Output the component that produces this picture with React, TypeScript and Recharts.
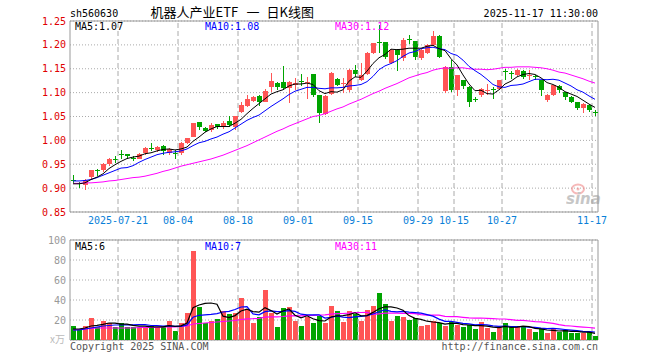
import { ComposedChart, Bar, Line, XAxis, YAxis, CartesianGrid, ReferenceLine, ReferenceArea } from 'recharts';

// trading days shown, MM-DD
const dates = [
  '07-09', '07-10', '07-11', '07-14', '07-15', '07-16', '07-17', '07-18', '07-21', '07-22',
  '07-23', '07-24', '07-25', '07-28', '07-29', '07-30', '07-31', '08-01', '08-04', '08-05',
  '08-06', '08-07', '08-08', '08-11', '08-12', '08-13', '08-14', '08-15', '08-18', '08-19',
  '08-20', '08-21', '08-22', '08-25', '08-26', '08-27', '08-28', '08-29', '09-01', '09-02',
  '09-03', '09-04', '09-05', '09-08', '09-09', '09-10', '09-11', '09-12', '09-15', '09-16',
  '09-17', '09-18', '09-19', '09-22', '09-23', '09-24', '09-25', '09-26', '09-29', '09-30',
  '10-09', '10-10', '10-13', '10-14', '10-15', '10-16', '10-17', '10-20', '10-21', '10-22',
  '10-23', '10-24', '10-27', '10-28', '10-29', '10-30', '10-31', '11-03', '11-04', '11-05',
  '11-06', '11-07', '11-10', '11-11', '11-12', '11-13', '11-14', '11-17',
];

const open = [
  0.916, 0.910, 0.907, 0.923, 0.937, 0.937, 0.950, 0.960, 0.972, 0.971,
  0.964, 0.962, 0.973, 0.984, 0.980, 0.989, 0.974, 0.974, 0.973, 0.995,
  1.008, 1.038, 1.025, 1.022, 1.034, 1.030, 1.040, 1.029, 1.060, 1.072,
  1.083, 1.093, 1.081, 1.112, 1.120, 1.123, 1.110, 1.115, 1.124, 1.120,
  1.138, 1.095, 1.055, 1.097, 1.128, 1.118, 1.105, 1.148, 1.127, 1.138,
  1.182, 1.206, 1.206, 1.162, 1.190, 1.172, 1.213, 1.208, 1.172, 1.184,
  1.200, 1.219, 1.103, 1.154, 1.106, 1.126, 1.112, 1.086, 1.094, 1.105,
  1.107, 1.108, 1.145, 1.141, 1.137, 1.146, 1.136, 1.134, 1.127, 1.084,
  1.094, 1.113, 1.101, 1.091, 1.080, 1.068, 1.075, 1.060,
];
const high = [
  0.927, 0.912, 0.920, 0.939, 0.940, 0.952, 0.963, 0.967, 0.980, 0.972,
  0.968, 0.973, 0.986, 0.994, 0.988, 0.990, 0.983, 0.980, 0.996, 1.006,
  1.037, 1.039, 1.027, 1.036, 1.035, 1.040, 1.051, 1.052, 1.081, 1.096,
  1.093, 1.094, 1.107, 1.141, 1.123, 1.156, 1.124, 1.131, 1.138, 1.133,
  1.140, 1.096, 1.094, 1.143, 1.131, 1.130, 1.149, 1.158, 1.163, 1.186,
  1.204, 1.242, 1.207, 1.192, 1.192, 1.214, 1.221, 1.209, 1.192, 1.202,
  1.229, 1.221, 1.156, 1.168, 1.137, 1.127, 1.113, 1.091, 1.110, 1.119,
  1.112, 1.127, 1.149, 1.146, 1.150, 1.148, 1.147, 1.136, 1.127, 1.098,
  1.116, 1.115, 1.102, 1.092, 1.081, 1.079, 1.076, 1.064,
];
const low = [
  0.910, 0.900, 0.898, 0.921, 0.926, 0.933, 0.946, 0.953, 0.962, 0.962,
  0.958, 0.960, 0.969, 0.978, 0.976, 0.969, 0.969, 0.962, 0.969, 0.993,
  1.007, 1.022, 1.017, 1.018, 1.024, 1.024, 1.027, 1.023, 1.057, 1.070,
  1.081, 1.070, 1.079, 1.101, 1.107, 1.105, 1.078, 1.106, 1.112, 1.086,
  1.092, 1.037, 1.053, 1.095, 1.114, 1.098, 1.101, 1.133, 1.125, 1.137,
  1.180, 1.183, 1.172, 1.160, 1.146, 1.166, 1.203, 1.170, 1.168, 1.182,
  1.198, 1.172, 1.100, 1.101, 1.094, 1.108, 1.070, 1.080, 1.092, 1.096,
  1.087, 1.106, 1.126, 1.130, 1.135, 1.130, 1.126, 1.126, 1.094, 1.082,
  1.092, 1.099, 1.085, 1.077, 1.064, 1.059, 1.059, 1.052,
];
const close = [
  0.914, 0.908, 0.918, 0.938, 0.936, 0.951, 0.962, 0.959, 0.971, 0.968,
  0.963, 0.972, 0.984, 0.983, 0.987, 0.977, 0.981, 0.973, 0.994, 1.005,
  1.036, 1.029, 1.019, 1.032, 1.028, 1.036, 1.032, 1.051, 1.074, 1.086,
  1.091, 1.081, 1.104, 1.124, 1.112, 1.110, 1.122, 1.121, 1.123, 1.122,
  1.095, 1.057, 1.093, 1.142, 1.116, 1.120, 1.147, 1.139, 1.136, 1.182,
  1.203, 1.205, 1.174, 1.190, 1.178, 1.210, 1.212, 1.174, 1.190, 1.200,
  1.219, 1.175, 1.154, 1.106, 1.137, 1.113, 1.080, 1.085, 1.108, 1.106,
  1.106, 1.126, 1.144, 1.140, 1.147, 1.133, 1.137, 1.133, 1.105, 1.096,
  1.115, 1.105, 1.091, 1.080, 1.068, 1.077, 1.063, 1.059,
];

const ma5 = [
  0.909, 0.909, 0.911, 0.918, 0.923, 0.930, 0.941, 0.949, 0.956, 0.962,
  0.965, 0.967, 0.972, 0.974, 0.978, 0.981, 0.982, 0.980, 0.982, 0.986,
  0.998, 1.007, 1.017, 1.024, 1.029, 1.029, 1.029, 1.036, 1.044, 1.056,
  1.067, 1.077, 1.087, 1.097, 1.102, 1.106, 1.114, 1.118, 1.118, 1.120,
  1.117, 1.104, 1.098, 1.102, 1.101, 1.106, 1.124, 1.133, 1.132, 1.145,
  1.161, 1.173, 1.180, 1.191, 1.190, 1.191, 1.193, 1.193, 1.193, 1.197,
  1.199, 1.192, 1.188, 1.171, 1.158, 1.137, 1.118, 1.104, 1.105, 1.098,
  1.097, 1.106, 1.118, 1.124, 1.133, 1.138, 1.140, 1.138, 1.131, 1.121,
  1.117, 1.111, 1.102, 1.097, 1.092, 1.084, 1.076, 1.069,
];
const ma10 = [
  0.915, 0.915, 0.916, 0.918, 0.922, 0.927, 0.932, 0.937, 0.942, 0.943,
  0.947, 0.954, 0.960, 0.965, 0.970, 0.973, 0.975, 0.976, 0.978, 0.982,
  0.989, 0.995, 0.998, 1.003, 1.007, 1.013, 1.018, 1.026, 1.034, 1.042,
  1.048, 1.053, 1.062, 1.071, 1.079, 1.087, 1.096, 1.103, 1.107, 1.111,
  1.111, 1.109, 1.108, 1.110, 1.110, 1.111, 1.114, 1.115, 1.117, 1.123,
  1.134, 1.148, 1.156, 1.161, 1.167, 1.176, 1.183, 1.186, 1.192, 1.194,
  1.195, 1.192, 1.190, 1.182, 1.178, 1.168, 1.155, 1.146, 1.138, 1.128,
  1.117, 1.112, 1.111, 1.115, 1.116, 1.118, 1.123, 1.128, 1.128, 1.127,
  1.128, 1.126, 1.120, 1.114, 1.106, 1.101, 1.093, 1.086,
];
const ma30 = [
  0.910, 0.910, 0.911, 0.911, 0.912, 0.913, 0.915, 0.916, 0.918, 0.920,
  0.922, 0.923, 0.925, 0.928, 0.931, 0.935, 0.938, 0.942, 0.946, 0.949,
  0.952, 0.955, 0.958, 0.961, 0.965, 0.969, 0.974, 0.979, 0.984, 0.989,
  0.995, 1.001, 1.007, 1.013, 1.019, 1.024, 1.030, 1.035, 1.040, 1.045,
  1.050, 1.052, 1.056, 1.061, 1.066, 1.070, 1.076, 1.081, 1.086, 1.092,
  1.098, 1.103, 1.109, 1.114, 1.119, 1.125, 1.131, 1.135, 1.139, 1.142,
  1.147, 1.150, 1.152, 1.151, 1.152, 1.152, 1.150, 1.149, 1.149, 1.148,
  1.149, 1.151, 1.153, 1.153, 1.154, 1.154, 1.154, 1.153, 1.152, 1.150,
  1.147, 1.143, 1.141, 1.137, 1.133, 1.129, 1.124, 1.120,
];

// volume, 万
const vol = [
  14, 10, 14, 22.3, 13, 19.3, 17, 13, 17, 13,
  13, 13, 13, 14, 13, 13, 19, 9, 17, 27,
  89.3, 33.3, 17, 19, 21, 29, 26, 27, 42, 30,
  17, 23, 50, 27, 13, 32, 33, 19, 14, 23,
  17, 24, 17, 34, 29, 18, 29, 26, 19, 30,
  34, 47.3, 36, 19, 24, 23, 20, 22, 14, 15,
  19, 17, 14, 18, 15, 13, 15, 11, 18, 12,
  8, 13, 17, 13, 13, 13, 11, 8, 11, 7,
  11, 8, 10, 7, 7, 7, 8, 4,
];
const volMa5 = [
  11, 11, 12, 14, 14.6, 15.6, 17, 16.8, 15.8, 15.8,
  14.6, 13.8, 13.8, 13.2, 13.2, 13.2, 14.4, 13.6, 14.2, 17,
  32.2, 35, 36.6, 37, 35.8, 23.8, 22.4, 24.4, 29, 30.8,
  28.4, 27.8, 32.4, 29.4, 26, 29, 31, 24.8, 22.2, 24.2,
  21.2, 19.4, 19, 23, 24.2, 24.4, 25.4, 27.2, 24.2, 24.4,
  27.6, 31.2, 33.2, 33.2, 32, 29.8, 24.4, 21.6, 20.6, 18.8,
  18, 17.4, 15.8, 16.6, 16.6, 15.4, 15, 14.4, 14.4, 13.8,
  12.8, 12.4, 13.6, 12.6, 12.8, 13.8, 13.4, 11.6, 11.2, 10,
  9.6, 9, 9.4, 8.6, 8.6, 7.8, 7.8, 6.6,
];
const volMa10 = [
  10, 10, 11, 12, 13, 14, 14.5, 15, 15, 15.2,
  15.1, 15.4, 15.3, 14.5, 14.5, 13.9, 14.1, 13.7, 13.7, 15.1,
  22.7, 24.7, 25.1, 25.6, 26.4, 28, 28.7, 30.5, 33, 33.3,
  26.1, 25.1, 28.4, 29.2, 28.4, 28.7, 29.4, 28.6, 25.8, 25.1,
  25.1, 25.2, 21.9, 22.6, 24.2, 22.8, 22.4, 23.1, 23.6, 24.3,
  26, 28.3, 30.2, 28.7, 28.2, 28.7, 27.8, 27.4, 26.9, 25.4,
  23.9, 20.9, 18.7, 18.6, 17.7, 16.7, 16.2, 15.1, 15.5, 15.2,
  14.1, 13.7, 14, 13.5, 13.3, 13.3, 12.9, 12.6, 11.9, 11.4,
  11.7, 11.2, 10.5, 9.9, 9.3, 8.7, 8.4, 8,
];
const volMa30 = [
  10, 10.5, 11, 11.5, 12, 12, 12, 12, 12, 12,
  12, 12.5, 12.5, 12.5, 12.5, 13, 13, 13, 13.5, 14,
  16, 16.5, 17, 17.5, 18, 18.5, 19, 19.5, 20.5, 21.2,
  21.3, 21.7, 22.9, 23.1, 23.1, 23.5, 24.1, 24.3, 24.2, 24.5,
  24.6, 25, 25.1, 25.8, 26.3, 26.5, 26.8, 27.4, 27.5, 27.6,
  25.7, 26.2, 26.8, 26.8, 26.9, 26.7, 26.5, 26.4, 25.4, 24.9,
  25, 24.8, 23.6, 23.3, 23.4, 22.7, 22.1, 21.9, 22, 21.6,
  21.3, 21, 21, 20.3, 19.7, 19.6, 19, 18.4, 18.1, 17.3,
  16.6, 15.3, 14.4, 14, 13.4, 12.9, 12.5, 11.9,
];

const tickLabels = ['2025-07-21', '08-04', '08-18', '09-01', '09-15', '09-29', '10-15', '10-27', '11-17'];
const priceTicks = [0.85, 0.9, 0.95, 1.0, 1.05, 1.1, 1.15, 1.2, 1.25];
const volTicks = [20, 40, 60, 80, 100];
const priceMaLabels = ['MA5:1.07', 'MA10:1.08', 'MA30:1.12'];
const volMaLabels = ['MA5:6', 'MA10:7', 'MA30:11'];

const RED = '#ff5555';
const GREEN = '#00a400';
const MA_COLORS = ['#000000', '#0000ff', '#ff00ff'];
const MONO = 'DejaVu Sans Mono';

const rows = dates.map((date, i) => ({
  i,
  date,
  open: open[i],
  high: high[i],
  low: low[i],
  close: close[i],
  range: [low[i], high[i]],
  ma5: ma5[i],
  ma10: ma10[i],
  ma30: ma30[i],
  vol: vol[i],
  volMa5: volMa5[i],
  volMa10: volMa10[i],
  volMa30: volMa30[i],
}));

const tickIdx = tickLabels.map((l) => dates.indexOf(l.slice(-5)));

const Candle = (props: any) => {
  const { x, y, height, payload } = props;
  const color = payload.close > payload.open ? RED : GREEN;
  const span = payload.high - payload.low || 1;
  const toY = (v: number) => y + ((payload.high - v) / span) * height;
  const top = Math.round(toY(Math.max(payload.open, payload.close)));
  const bottom = Math.round(toY(Math.min(payload.open, payload.close)));
  const left = Math.floor(x);
  return (
    <g shapeRendering="crispEdges">
      <rect x={left + 2} y={Math.round(y)} width={1} height={Math.max(1, Math.round(height))} fill={color} />
      <rect x={left} y={top} width={5} height={Math.max(1, bottom - top)} fill={color} />
    </g>
  );
};

const VolBar = (props: any) => {
  const { x, y, height, payload } = props;
  const color = payload.close > payload.open ? RED : GREEN;
  return (
    <rect
      x={Math.floor(x)}
      y={Math.round(y)}
      width={5}
      height={Math.round(height)}
      fill={color}
      shapeRendering="crispEdges"
    />
  );
};

// dashed date lines; the price panel also carries the date labels under them
const gridLines = (withLabels: boolean) =>
  tickIdx.map((t, k) => (
    <ReferenceLine
      key={t}
      xAxisId="num"
      x={t}
      stroke="#aaa"
      strokeDasharray="5 3"
      label={
        withLabels
          ? { value: tickLabels[k], position: 'bottom', offset: 5, fill: '#0a7fd8', fontSize: 10, fontFamily: MONO }
          : undefined
      }
    />
  ));

const App = () => {
  return (
    <div style={{ position: 'absolute', left: 0, top: 0, width: 660, height: 360, background: '#fff' }}>
      <div style={{ position: 'absolute', left: 0, top: 0 }}>
        <ComposedChart width={660} height={230} data={rows} margin={{ top: 21, right: 62, bottom: 0, left: 40 }}>
          <CartesianGrid vertical={false} stroke="#aaa" strokeDasharray="1 2" />
          <XAxis dataKey="date" hide />
          <XAxis
            xAxisId="num"
            dataKey="i"
            type="number"
            domain={[0, 88]}
            ticks={tickIdx}
            height={18}
            tick={false}
            axisLine={false}
            tickLine={false}
          />
          <YAxis
            domain={[0.85, 1.25]}
            ticks={priceTicks}
            interval={0}
            allowDataOverflow
            width={30}
            axisLine={false}
            tickLine={false}
            tickSize={0}
            tickMargin={4}
            tickFormatter={(v: number) => v.toFixed(2)}
            tick={{ fill: '#e00000', fontSize: 10, fontFamily: MONO }}
          />
          {gridLines(true)}
          <ReferenceArea xAxisId="num" x1={0} x2={88} y1={0.85} y2={1.25} fill="none" stroke="#999" />
          <Bar dataKey="range" barSize={5} shape={<Candle />} isAnimationActive={false} />
          <Line dataKey="ma30" stroke={MA_COLORS[2]} strokeWidth={1} dot={false} isAnimationActive={false} />
          <Line dataKey="ma10" stroke={MA_COLORS[1]} strokeWidth={1} dot={false} isAnimationActive={false} />
          <Line dataKey="ma5" stroke={MA_COLORS[0]} strokeWidth={1} dot={false} isAnimationActive={false} />
        </ComposedChart>
      </div>

      <div style={{ position: 'absolute', left: 0, top: 230 }}>
        <ComposedChart width={660} height={130} data={rows} margin={{ top: 10, right: 62, bottom: 20, left: 40 }}>
          <CartesianGrid vertical={false} stroke="#aaa" strokeDasharray="1 2" />
          <XAxis dataKey="date" hide />
          <XAxis
            xAxisId="num"
            dataKey="i"
            type="number"
            domain={[0, 88]}
            ticks={tickIdx}
            height={0}
            tick={false}
            axisLine={false}
            tickLine={false}
          />
          <YAxis
            domain={[0, 100]}
            ticks={volTicks}
            interval={0}
            allowDataOverflow
            width={30}
            axisLine={false}
            tickLine={false}
            tickSize={0}
            tickMargin={4}
            tick={{ fill: '#999', fontSize: 10, fontFamily: MONO }}
          />
          {gridLines(false)}
          <ReferenceArea xAxisId="num" x1={0} x2={88} y1={0} y2={100} fill="none" stroke="#999" />
          <Bar dataKey="vol" barSize={5} shape={<VolBar />} isAnimationActive={false} />
          <Line dataKey="volMa30" stroke={MA_COLORS[2]} strokeWidth={1.2} dot={false} isAnimationActive={false} />
          <Line dataKey="volMa10" stroke={MA_COLORS[1]} strokeWidth={1.2} dot={false} isAnimationActive={false} />
          <Line dataKey="volMa5" stroke={MA_COLORS[0]} strokeWidth={1.2} dot={false} isAnimationActive={false} />
        </ComposedChart>
      </div>

      <svg
        width={660}
        height={360}
        style={{ position: 'absolute', left: 0, top: 0, pointerEvents: 'none' }}
        fontFamily={MONO}
        fontSize={10}
      >
        <text x={70} y={16.5} fill="#000">sh560630</text>
        <g fontFamily="Noto Sans CJK SC" fontSize={13} fill="#000">
          <text x={150.5} y={17}>机器人产业ETF</text>
          <text x={246.5} y={17}>一</text>
          <text x={266.5} y={17}>日K线图</text>
        </g>
        <text x={598} y={16.5} textAnchor="end" fill="#000">2025-11-17 11:30:00</text>

        {priceMaLabels.map((t, k) => (
          <text key={t} x={[75, 205, 335][k]} y={29.5} fill={MA_COLORS[k]}>{t}</text>
        ))}
        {volMaLabels.map((t, k) => (
          <text key={t} x={[75, 205, 335][k]} y={249.5} fill={MA_COLORS[k]}>{t}</text>
        ))}

        <text x={65} y={343} textAnchor="end" fill="#bbb" fontFamily="Noto Sans CJK SC">x万</text>
        <text x={70} y={350} fill="#555">Copyright 2025 SINA.COM</text>
        <text x={598} y={350} textAnchor="end" fill="#555">http://finance.sina.com.cn</text>

        <g opacity={0.55}>
          <ellipse cx={578} cy={189} rx={6} ry={4.5} fill="none" stroke="#f08080" strokeWidth={2} />
          <circle cx={578} cy={189} r={1.5} fill="#f08080" />
          <text x={566} y={204} fontFamily="DejaVu Sans" fontStyle="italic" fontWeight="bold" fontSize={15} fill="#999">sina</text>
        </g>
      </svg>
    </div>
  );
};

export default App;
